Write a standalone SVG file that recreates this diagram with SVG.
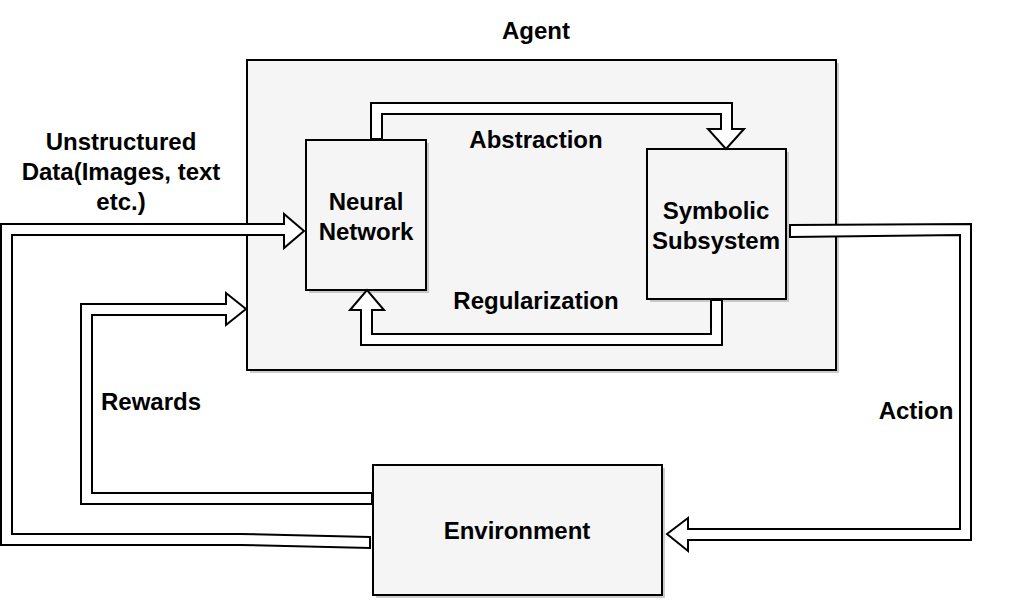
<svg xmlns="http://www.w3.org/2000/svg" width="1018" height="600" viewBox="0 0 1018 600">
<style>
.box{fill:#f5f5f5;stroke:#000;stroke-width:2}
.sh{fill:#999;opacity:0.5}
.arr{fill:#fff;stroke:#000;stroke-width:2;stroke-linejoin:miter}
text{font-family:"Liberation Sans",Arial,sans-serif;font-weight:bold;font-size:24px;fill:#000;text-anchor:middle}
</style>
<rect width="1018" height="600" fill="#fff"/>
<g id="agent"><rect class="sh" x="250" y="63" width="589" height="310"/><rect class="box" x="247" y="60" width="589" height="310"/><text x="536" y="39">Agent</text></g>
<g id="neural-network"><rect class="sh" x="309" y="143" width="120" height="150"/><rect class="box" x="306" y="140" width="120" height="150"/><text x="366" y="210">Neural</text><text x="366" y="240">Network</text></g>
<g id="symbolic-subsystem"><rect class="sh" x="650" y="152" width="139" height="150"/><rect class="box" x="647" y="149" width="139" height="150"/><text x="716" y="219">Symbolic</text><text x="716" y="249">Subsystem</text></g>
<g id="environment"><rect class="sh" x="376" y="468" width="289" height="130"/><rect class="box" x="373" y="465" width="289" height="130"/><text x="517" y="539">Environment</text></g>
<g id="connectors">
<polygon class="arr" points="371,139 371,103 732,103 732,129 744,129 726,149 708,129 721,129 721,114 382,114 382,139"/>
<polygon class="arr" points="722,300 722,345 361,345 361,310 350,310 367,290 384,310 372,310 372,334 711,334 711,300"/>
<polygon class="arr" points="370,537 240,534 12,534 12,235 284,235 284,248 304,231 284,214 284,224 1,224 1,545 240,545 370,548"/>
<polygon class="arr" points="372,493 92,493 92,315 226,315 226,325 246,309 226,293 226,304 81,304 81,504 372,504"/>
<polygon class="arr" points="790,225 971,224 971,540 688,540 688,551 667,534 688,518 688,529 960,529 960,235 790,237"/>
</g>
<g id="labels">
<text x="536" y="148">Abstraction</text>
<text x="536" y="309">Regularization</text>
<text x="121" y="150">Unstructured</text>
<text x="121" y="180">Data(Images, text</text>
<text x="121" y="210">etc.)</text>
<text x="151" y="410">Rewards</text>
<text x="916" y="419">Action</text>
</g>
</svg>
